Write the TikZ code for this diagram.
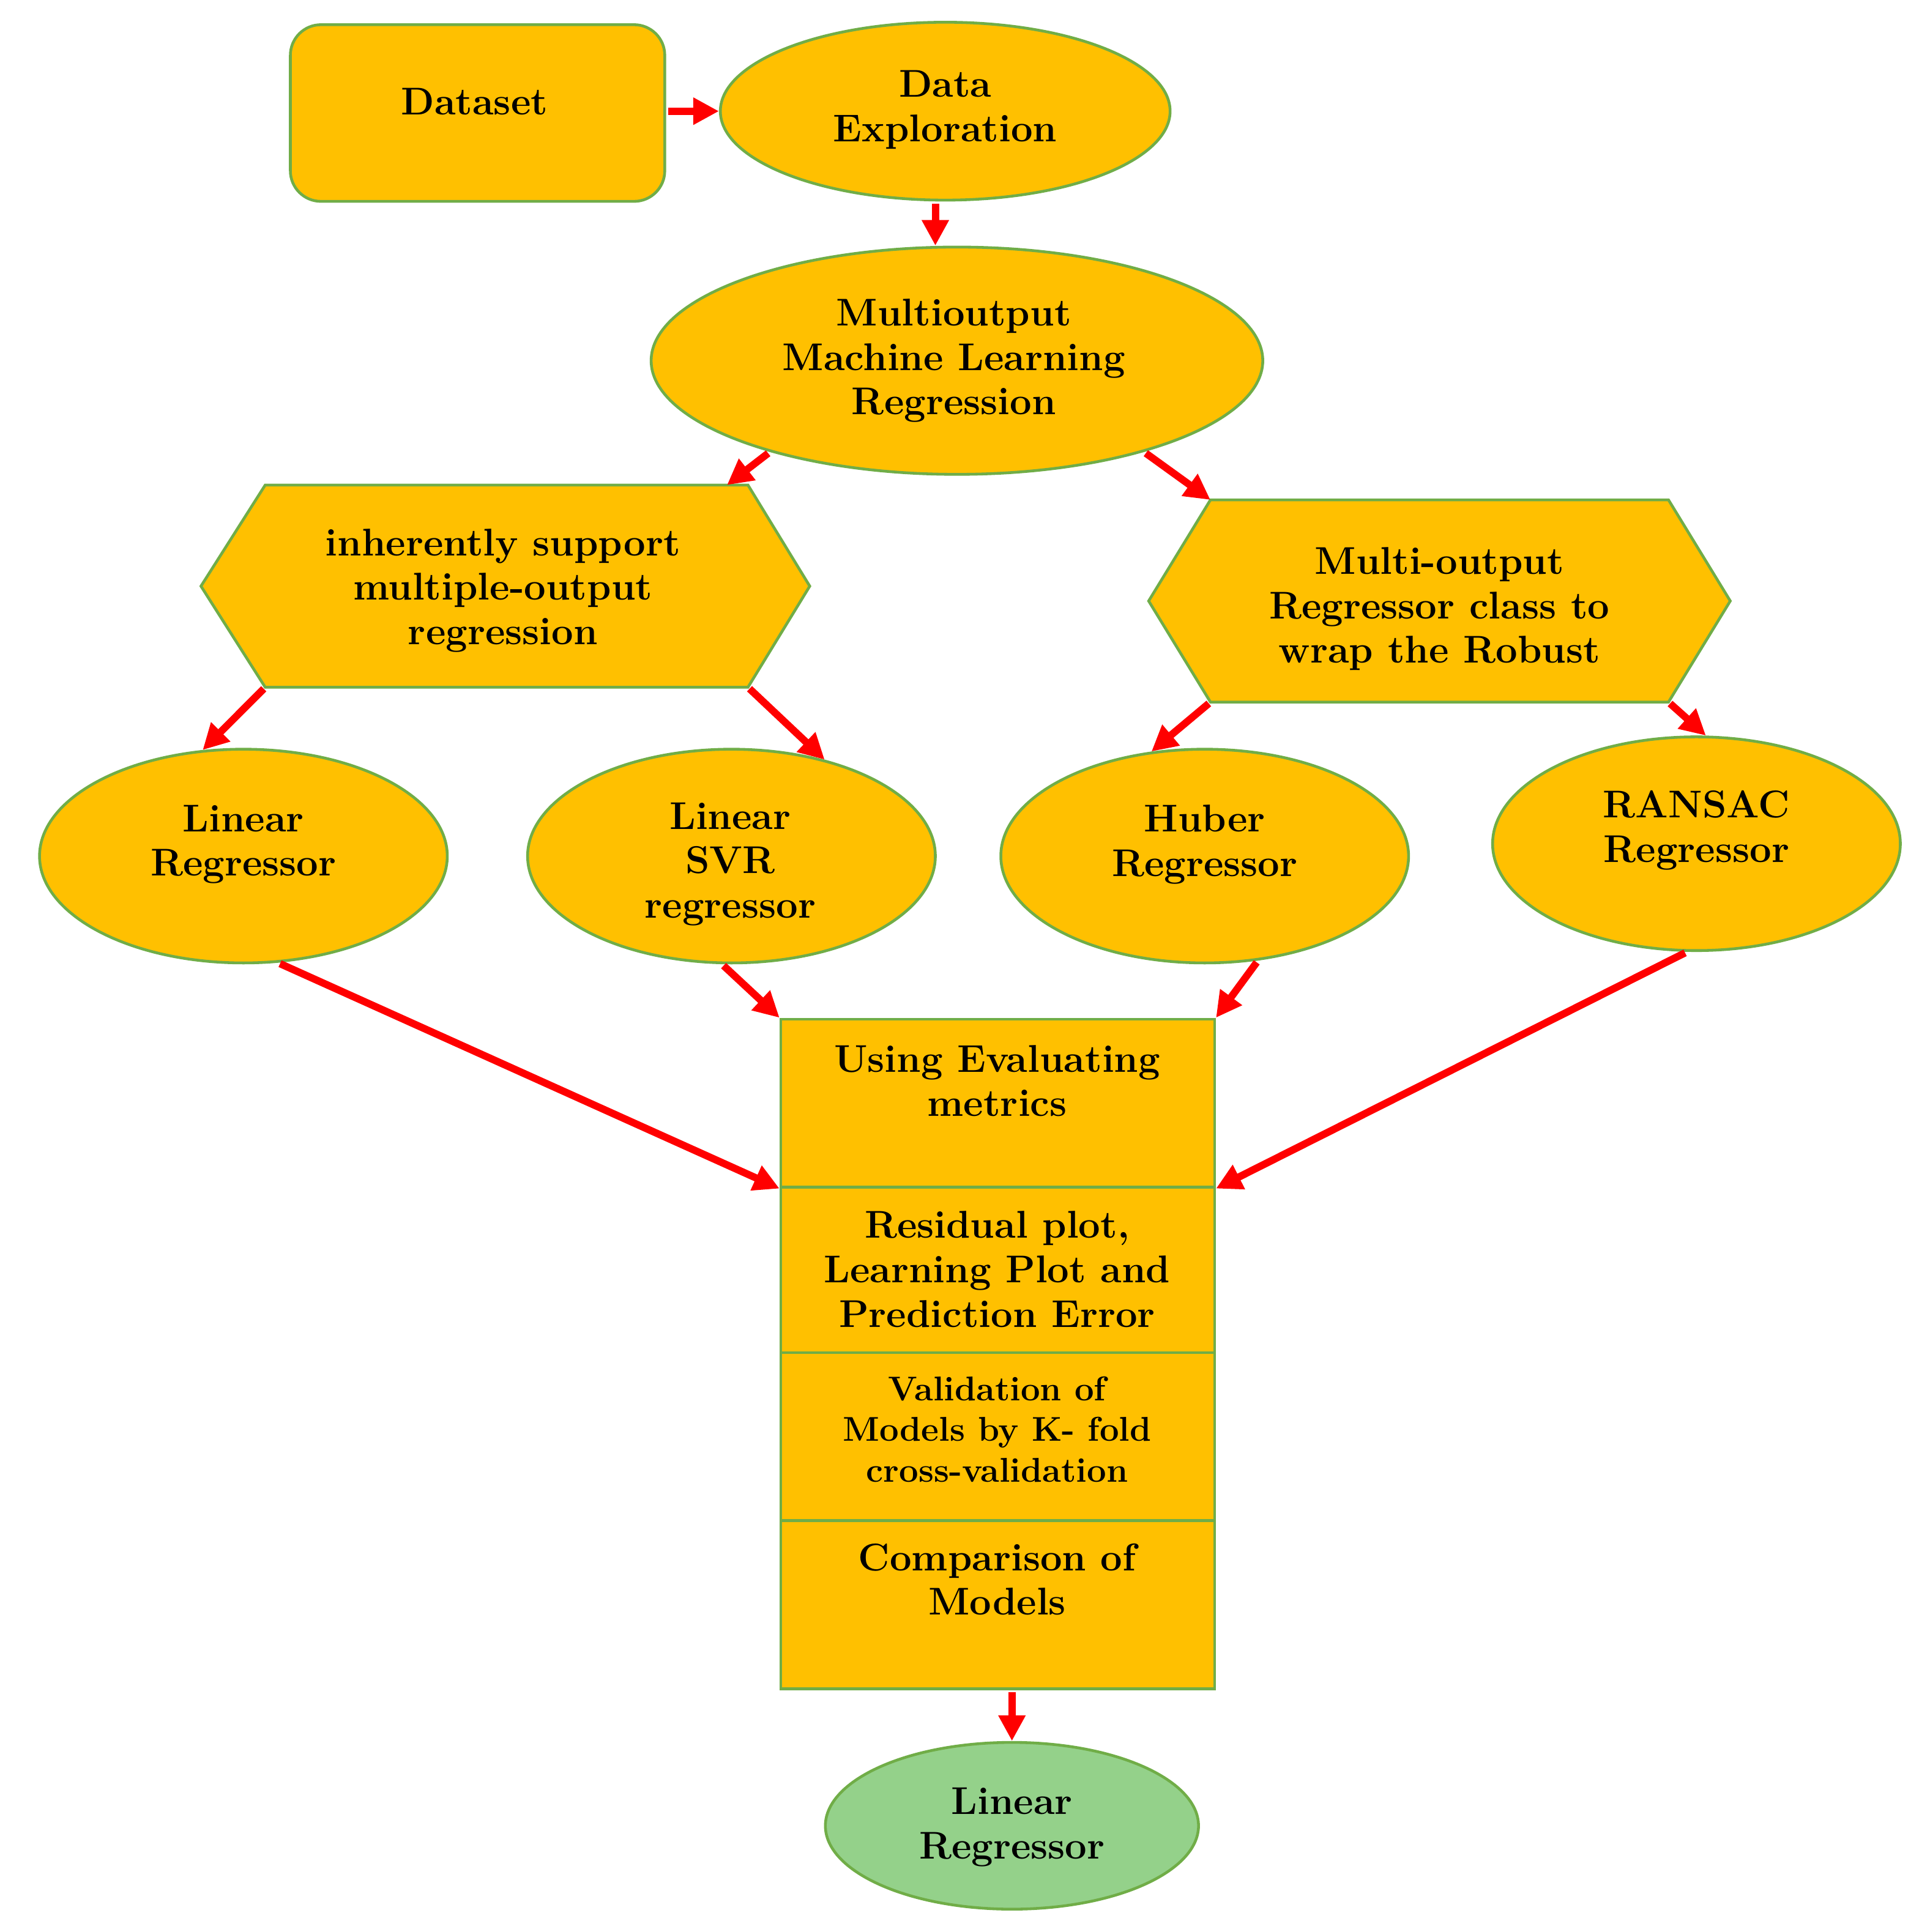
\documentclass[tikz,border=0pt]{standalone}
\usetikzlibrary{shapes.geometric,arrows.meta,calc}
\definecolor{fillor}{RGB}{255,192,0}
\definecolor{edgegr}{RGB}{112,173,71}
\definecolor{finalgr}{RGB}{148,209,138}
\definecolor{arrred}{RGB}{255,0,0}
\begin{document}
\begin{tikzpicture}[x=0.0202cm,y=-0.0202cm,
  sz/.style 2 args={minimum width=#1*0.0202cm, minimum height=#2*0.0202cm},
  shapebox/.style={draw=edgegr,fill=fillor,line width=1.3pt,inner sep=0pt},
  ell/.style={shapebox,ellipse},
  frame/.style={inner sep=0pt},
  lbl/.style={align=center,font=\fontsize{18}{20.7}\selectfont\bfseries,inner sep=0pt},
  lblsmall/.style={align=center,font=\fontsize{16}{18.9}\selectfont\bfseries,inner sep=0pt},
  arr/.style={draw=arrred,line width=3.4pt,-{Triangle[length=0.42cm,width=0.42cm]},shorten <=1pt},
]
\useasboundingbox (0,0) rectangle (1562,1564);

% top row
\node[shapebox,rounded corners=0.5cm,sz={303}{143}] (ds) at (386.5,91.5) {};
\node[ell,sz={364}{144}] (de) at (765,90) {};
\node[ell,sz={495}{184}] (mo) at (774.5,292) {};

% hexagons
\node[frame,sz={390}{163}] (hl) at (410,474.5) {};
\draw[shapebox] (hl.north west) -- (hl.north east) -- ($(hl.east)+(50,0)$) -- (hl.south east)
  -- (hl.south west) -- ($(hl.west)+(-52,0)$) -- cycle;
\node[frame,sz={370}{163}] (hr) at (1165,486.5) {};
\draw[shapebox] (hr.north west) -- (hr.north east) -- ($(hr.east)+(50,0)$) -- (hr.south east)
  -- (hr.south west) -- ($(hr.west)+(-50,0)$) -- cycle;

% regressors
\node[ell,sz={330}{173}] (lr) at (197,693) {};
\node[ell,sz={330}{173}] (svr) at (592,693) {};
\node[ell,sz={330}{173}] (hub) at (975,693) {};
\node[ell,sz={330}{173}] (ran) at (1373,683) {};

% evaluation column
\node[shapebox,sz={351}{136}] (c1) at (807.5,893) {};
\node[shapebox,sz={351}{134}] (c2) at (807.5,1028) {};
\node[shapebox,sz={351}{136}] (c3) at (807.5,1163) {};
\node[shapebox,sz={351}{136}] (c4) at (807.5,1299) {};

% final
\node[ell,fill=finalgr,sz={302}{135}] (fin) at (819,1478) {};

% labels
\node[lbl] (tds) at (384,82) {Dataset};
\node[lbl] (tde) at (765,89) {Data\\Exploration};
\node[lbl] (tmo) at (772,292) {Multioutput\\Machine Learning\\Regression};
\node[lbl] (thl) at (407,478) {inherently support\\multiple-output\\regression};
\node[lbl] (thr) at (1165,493) {Multi-output\\Regressor class to\\wrap the Robust};
\node[lbl] (tlr) at (197,683.5) {Linear\\Regressor};
\node[lbl] (tsvr) at (591,699.5) {Linear\\SVR\\regressor};
\node[lbl] (thub) at (975,683.5) {Huber\\Regressor};
\node[lbl] (tran) at (1373,672) {RANSAC\\Regressor};
\node[lbl] (tc1) at (807,875) {Using Evaluating\\metrics};
\node[lbl] (tc2) at (807,1027.5) {Residual plot,\\Learning Plot and\\Prediction Error};
\node[lblsmall] (tc3) at (807,1157) {Validation of\\Models by K- fold\\cross-validation};
\node[lbl] (tc4) at (807,1278.5) {Comparison of\\Models};
\node[lbl] (tfin) at (819,1479) {Linear\\Regressor};

% connectors
\coordinate (a0) at ($(de.south)+(-8,0)$);
\draw[arr] (de.west -| ds.east) -- (de.west);
\draw[arr] (a0) -- (a0 |- mo.north);
\draw[arr] (mo.-154) -- ($(hl.north east)+(-17,0)$);
\draw[arr] (mo.-26) -- (hr.north west);
\draw[arr] (hl.south west) -- (lr.111);
\draw[arr] (hl.south east) -- (svr.46);
\draw[arr] (hr.south west) -- (hub.117);
\draw[arr] (hr.south east) -- (ran.85);
\draw[arr] (lr.-72) -- (c1.south west);
\draw[arr] (svr.-95) -- (c1.north west);
\draw[arr] (hub.-63) -- (c1.north east);
\draw[arr] (ran.-95) -- (c1.south east);
\draw[arr] (c4.south -| fin.north) -- (fin.north);
\end{tikzpicture}
\end{document}
